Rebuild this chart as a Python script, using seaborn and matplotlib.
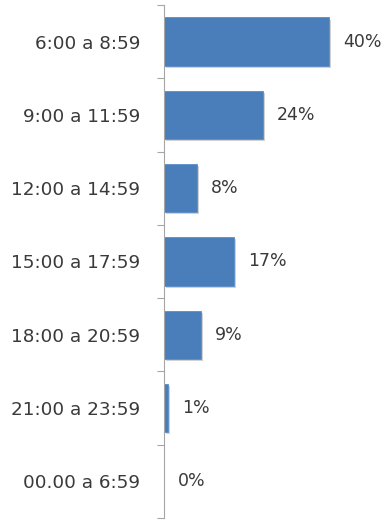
import matplotlib
matplotlib.use("Agg")
import matplotlib.pyplot as plt
import matplotlib.patheffects as pe
from matplotlib.ticker import FixedLocator, FixedFormatter, NullFormatter
import seaborn as sns
import pandas as pd

franjas = ["6:00 a 8:59", "9:00 a 11:59", "12:00 a 14:59", "15:00 a 17:59",
           "18:00 a 20:59", "21:00 a 23:59", "00.00 a 6:59"]
porcentajes = [40, 24, 8, 17, 9, 1, 0]

df = pd.DataFrame({"franja": franjas, "pct": porcentajes})

sns.set_theme(style="white")
plt.rcParams["font.family"] = ["DejaVu Sans"]

fig = plt.figure(figsize=(3.84, 5.23), dpi=100)
ax = fig.add_axes([164 / 384, 5 / 523, 220 / 384, 513 / 523])

sns.barplot(data=df, x="pct", y="franja", orient="h", color="#4a7ebb",
            saturation=1, width=0.66, ax=ax)
for bar in ax.patches:
    bar.set_edgecolor("#5b8cc8")
    bar.set_linewidth(0.6)
    bar.set_path_effects([pe.SimplePatchShadow(offset=(1.5, -1.5), alpha=0.35,
                                               shadow_rgbFace="#7f7f7f"),
                          pe.Normal()])

for i, v in enumerate(porcentajes):
    ax.annotate(f"{v}%", xy=(v, i), xytext=(10, 0), textcoords="offset points",
                va="center", ha="left", fontsize=12.5, color="#3a3a3a")

ax.set_xlim(0, 220 / 4.125)
ax.set_ylim(6.5, -0.5)
ax.set_xlabel("")
ax.set_ylabel("")
ax.set_xticks([])

# Category names as minor ticks, boundary marks as major ticks
ax.yaxis.set_major_locator(FixedLocator([i - 0.5 for i in range(len(franjas) + 1)]))
ax.yaxis.set_major_formatter(NullFormatter())
ax.yaxis.set_minor_locator(FixedLocator(list(range(len(franjas)))))
ax.yaxis.set_minor_formatter(FixedFormatter(franjas))
ax.tick_params(axis="y", which="minor", length=0, pad=17, labelsize=13.2,
               labelcolor="#3a3a3a", left=True, labelleft=True)
ax.tick_params(axis="y", which="major", length=5, width=0.8, color="#a6a6a6",
               direction="out", left=True)

for side in ["top", "right", "bottom"]:
    ax.spines[side].set_visible(False)
ax.spines["left"].set_color("#a6a6a6")
ax.spines["left"].set_linewidth(0.8)

fig.savefig("out.png", dpi=100)
